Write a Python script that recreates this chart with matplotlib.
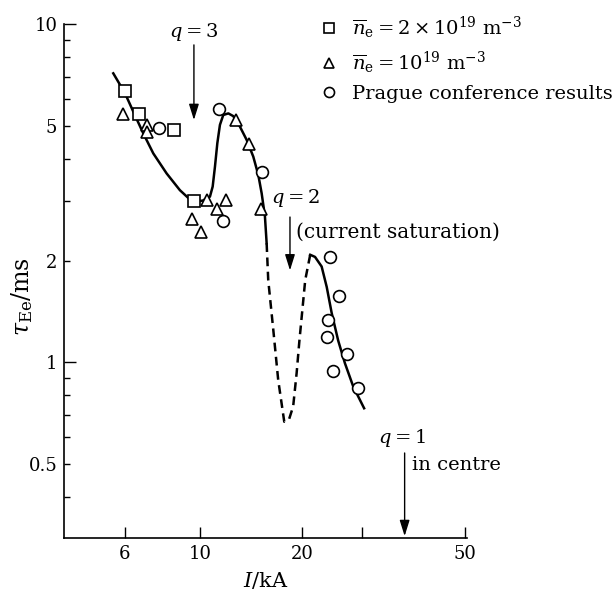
import matplotlib
matplotlib.use("Agg")
import matplotlib.pyplot as plt
from matplotlib.ticker import FixedLocator, FixedFormatter, NullLocator

plt.rcParams['font.family'] = ['DejaVu Serif']
plt.rcParams['mathtext.fontset'] = 'dejavuserif'

# n_e = 2e19 m^-3 (squares)
sq_I = [6.0, 6.6, 8.4, 9.6]
sq_tau = [6.35, 5.42, 4.86, 3.0]

# n_e = 1e19 m^-3 (triangles)
tri_I = [5.93, 7.0, 7.0, 9.5, 10.1, 10.5, 11.2, 11.95, 12.8, 13.9, 15.1]
tri_tau = [5.42, 5.05, 4.8, 2.65, 2.43, 3.03, 2.85, 3.03, 5.2, 4.42, 2.85]

# Prague conference results (circles)
circ_I = [7.6, 11.4, 11.7, 15.2, 24.1, 25.7, 23.8, 23.7, 27.1, 24.6, 29.1]
circ_tau = [4.92, 5.6, 2.62, 3.66, 2.05, 1.57, 1.33, 1.19, 1.06, 0.94, 0.84]

# hand drawn trend line, solid part 1
fit1_I = [5.56, 6.02, 6.37, 6.81, 7.29, 7.98, 8.73, 9.35, 9.78, 10.2, 10.7, 10.9,
          11.07, 11.25, 11.45, 11.71, 12.12, 12.53, 13.11, 13.72, 14.35, 14.85,
          15.19, 15.53, 15.71]
fit1_tau = [7.16, 6.25, 5.51, 4.76, 4.15, 3.62, 3.23, 3.03, 2.99, 3.01, 3.09, 3.31,
            3.79, 4.45, 5.04, 5.39, 5.45, 5.35, 4.98, 4.55, 4.06, 3.58,
            3.16, 2.70, 2.25]

# dashed dip (current saturation)
dip_I = [15.71, 15.88, 16.43, 16.99, 17.7, 18.3, 18.8, 19.25, 19.6, 20.4, 21.1]
dip_tau = [2.25, 1.75, 1.25, 0.886, 0.667, 0.68, 0.74, 0.93, 1.15, 1.75, 2.08]

# solid part 2
fit2_I = [21.1, 21.8, 22.8, 23.6, 24.4, 25.5, 26.7, 28.25, 30.4]
fit2_tau = [2.08, 2.05, 1.92, 1.67, 1.40, 1.16, 0.993, 0.847, 0.731]

x_ticks = [6, 10, 20, 30, 60]
x_labels = ['6', '10', '20', '', '50']
y_major = [1, 10]
y_minor = [0.4, 0.5, 0.6, 0.7, 0.8, 0.9, 2, 3, 4, 5, 6, 7, 8, 9]
y_minor_labels = ['', '0.5', '', '', '', '', '2', '', '', '5', '', '', '', '']

fig = plt.figure(figsize=(6.14, 5.97), dpi=100)
ax = fig.add_axes([0.1047, 0.0988, 0.6554, 0.8605])

ax.plot(fit1_I, fit1_tau, color='black', lw=1.8, zorder=2)
ax.plot(dip_I, dip_tau, color='black', lw=1.8, ls=(0, (3.5, 2.2)), zorder=2)
ax.plot(fit2_I, fit2_tau, color='black', lw=1.8, zorder=2)

mk = dict(ls='none', mfc='white', mec='black', mew=1.2, zorder=3)
h_sq, = ax.plot(sq_I, sq_tau, marker='s', ms=9, **mk)
h_tri, = ax.plot(tri_I, tri_tau, marker='^', ms=8.5, **mk)
h_circ, = ax.plot(circ_I, circ_tau, marker='o', ms=8.5, **mk)

ax.set_xscale('log')
ax.set_yscale('log')
ax.set_xlim(3.99, 60.9)
ax.set_ylim(0.302, 10)

ax.xaxis.set_major_locator(FixedLocator(x_ticks))
ax.xaxis.set_major_formatter(FixedFormatter(x_labels))
ax.xaxis.set_minor_locator(NullLocator())
ax.yaxis.set_major_locator(FixedLocator(y_major))
ax.yaxis.set_major_formatter(FixedFormatter(['1', '10']))
ax.yaxis.set_minor_locator(FixedLocator(y_minor))
ax.yaxis.set_minor_formatter(FixedFormatter(y_minor_labels))

ax.tick_params(axis='both', which='both', direction='in', width=1.0, labelsize=13, pad=5)
ax.tick_params(axis='x', which='major', length=8)
ax.tick_params(axis='y', which='major', length=8.6)
ax.tick_params(axis='y', which='minor', length=4.3)

for s in ['top', 'right']:
    ax.spines[s].set_visible(False)
for s in ['left', 'bottom']:
    ax.spines[s].set_linewidth(1.2)

ax.set_xlabel(r'$I/\mathrm{kA}$', fontsize=15)
ax.set_ylabel(r'$\tau_{\mathrm{Ee}}/\mathrm{ms}$', fontsize=17)
ax.xaxis.set_label_coords(0.50, -0.063)
ax.yaxis.set_label_coords(-0.072, 0.47)

arrow = dict(arrowstyle='-|>,head_length=0.8,head_width=0.25', color='black',
             lw=1.0, mutation_scale=12, shrinkA=0, shrinkB=0)

# q = 3
ax.text(9.6, 9.49, r'$q=3$', fontsize=14, ha='center', va='center')
ax.annotate('', xy=(9.6, 5.21), xytext=(9.6, 8.69), arrowprops=arrow)

# q = 2
ax.text(19.03, 3.06, r'$q=2$', fontsize=14, ha='center', va='center')
ax.annotate('', xy=(18.4, 1.87), xytext=(18.4, 2.69), arrowprops=arrow)
ax.text(19.15, 2.43, '(current saturation)', fontsize=14.5, ha='left', va='center')

# q = 1
ax.text(39.3, 0.597, r'$q=1$', fontsize=14, ha='center', va='center')
ax.annotate('', xy=(40, 0.306), xytext=(40, 0.539), arrowprops=arrow)
ax.text(42.1, 0.497, 'in centre', fontsize=14, ha='left', va='center')

leg = fig.legend([h_sq, h_tri, h_circ],
                 [r'$\overline{n}_{\mathrm{e}}=2\times10^{19}\ \mathrm{m}^{-3}$',
                  r'$\overline{n}_{\mathrm{e}}=10^{19}\ \mathrm{m}^{-3}$',
                  'Prague conference results'],
                 loc='upper left', bbox_to_anchor=(0.5225, 0.975), frameon=False,
                 fontsize=14, handlelength=0.8, handletextpad=0.8,
                 borderpad=0, borderaxespad=0, labelspacing=0.45, markerscale=0.85)

fig.savefig('out.png', dpi=100)
